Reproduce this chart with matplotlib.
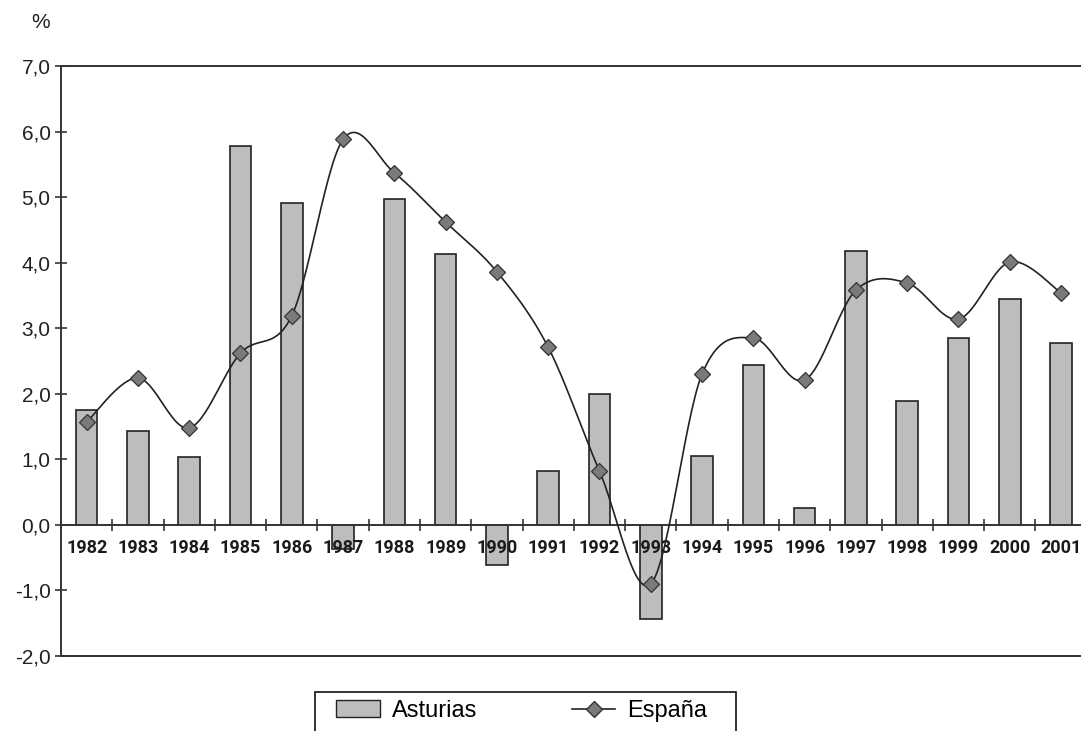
import numpy as np
import matplotlib
matplotlib.use("Agg")
import matplotlib.pyplot as plt
from matplotlib.patches import Patch, Rectangle
from matplotlib.lines import Line2D
from matplotlib import font_manager as fm

years = ["1982", "1983", "1984", "1985", "1986", "1987", "1988", "1989", "1990", "1991",
         "1992", "1993", "1994", "1995", "1996", "1997", "1998", "1999", "2000", "2001"]
asturias = [1.75, 1.43, 1.04, 5.78, 4.91, -0.37, 4.97, 4.13, -0.61, 0.82,
            2.00, -1.43, 1.05, 2.44, 0.26, 4.18, 1.89, 2.85, 3.45, 2.77]
espana = [1.57, 2.24, 1.48, 2.62, 3.19, 5.88, 5.37, 4.62, 3.86, 2.71,
          0.82, -0.90, 2.30, 2.85, 2.21, 3.58, 3.69, 3.14, 4.01, 3.54]
yticks = [-2, -1, 0, 1, 2, 3, 4, 5, 6, 7]

def has_font(name):
    try:
        fm.findfont(name, fallback_to_default=False)
        return True
    except Exception:
        return False

narrow = "Liberation Sans Narrow" if has_font("Liberation Sans Narrow") else "Roboto"
plt.rcParams['font.family'] = ['Liberation Sans', 'DejaVu Sans']

W, H = 1081, 731
fig = plt.figure(figsize=(W/100, H/100), dpi=100)
ax = fig.add_axes([61/W, 1-656/H, 1-61/W+0.01, (656-66)/H])
ax.set_axisbelow(False)

x = np.arange(len(years))
ax.bar(x, asturias, width=0.42, color='#bdbdbd', edgecolor='#222222', linewidth=1.2, zorder=2)

# smoothed curve (Catmull-Rom style Bezier, like spreadsheet smoothing)
def smooth(xs, ys, n=30):
    xs = np.asarray(xs, float); ys = np.asarray(ys, float)
    px, py = [], []
    N = len(xs)
    for i in range(N - 1):
        x0, y0 = (xs[i-1], ys[i-1]) if i > 0 else (xs[i], ys[i])
        x1, y1 = xs[i], ys[i]
        x2, y2 = xs[i+1], ys[i+1]
        x3, y3 = (xs[i+2], ys[i+2]) if i + 2 < N else (xs[i+1], ys[i+1])
        c1x, c1y = x1 + (x2 - x0) / 6, y1 + (y2 - y0) / 6
        c2x, c2y = x2 - (x3 - x1) / 6, y2 - (y3 - y1) / 6
        t = np.linspace(0, 1, n)
        bx = (1-t)**3*x1 + 3*(1-t)**2*t*c1x + 3*(1-t)*t**2*c2x + t**3*x2
        by = (1-t)**3*y1 + 3*(1-t)**2*t*c1y + 3*(1-t)*t**2*c2y + t**3*y2
        px.extend(bx); py.extend(by)
    return np.array(px), np.array(py)

sx, sy = smooth(x, espana)
ax.plot(sx, sy, color='#222222', lw=1.2, zorder=3)
ax.plot(x, espana, linestyle='none', marker='D', markersize=8.5,
        markerfacecolor='#7a7a7a', markeredgecolor='#333333', markeredgewidth=0.9, zorder=4)

ax.set_xlim(-0.5, len(years) - 0.4)
ax.set_ylim(-2, 7)
ax.set_yticks(yticks)
ax.set_yticklabels([f"{v:.1f}".replace('.', ',') for v in yticks], fontsize=15)

ax.spines['right'].set_visible(False)
ax.spines['bottom'].set_position(('data', 0))
for s in ['left', 'top', 'bottom']:
    ax.spines[s].set_linewidth(1.4)
    ax.spines[s].set_color('#333333')
ax.axhline(-2, color='#333333', lw=1.4, clip_on=False, zorder=1)

ax.set_xticks(x)
ax.set_xticklabels(years, fontsize=13, fontweight='bold', family=narrow)
ax.set_xticks(np.arange(0.5, len(years) - 0.5), minor=True)
ax.tick_params(axis='x', which='major', length=0, pad=10, colors='#1a1a1a')
ax.tick_params(axis='x', which='minor', length=9, direction='inout', width=1.2, color='#333333')
ax.tick_params(axis='y', length=9, direction='inout', width=1.2, color='#333333', labelcolor='#222222', pad=3)

fig.text(31/W, 1-22/H, '%', fontsize=15, ha='left', va='center', color='#222222')

# legend frame (cut by the bottom edge, as in the original)
fig.patches.append(Rectangle((315/W, -0.05), (736-315)/W, 0.05 + (H-692)/H,
                             transform=fig.transFigure, facecolor='white',
                             edgecolor='#222222', linewidth=1.3, zorder=5))
handles = [Patch(facecolor='#bdbdbd', edgecolor='#222222', linewidth=1.0),
           Line2D([], [], color='#222222', lw=1.2, marker='D', markersize=8.5,
                  markerfacecolor='#7a7a7a', markeredgecolor='#333333')]
leg = fig.legend(handles, ['Asturias', 'España'], ncol=2, loc='center left',
                 bbox_to_anchor=(336/W, 1-711/H), frameon=False,
                 fontsize=17, handlelength=1.86, handleheight=0.72, columnspacing=4.0,
                 borderpad=0, handletextpad=0.5, borderaxespad=0)
leg.set_zorder(6)

fig.savefig('out.png', dpi=100)
